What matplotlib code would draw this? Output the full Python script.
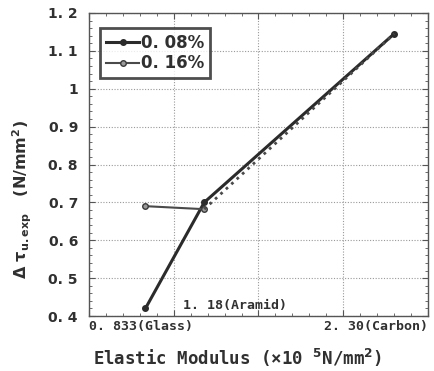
import matplotlib.pyplot as plt
from matplotlib.ticker import MultipleLocator

# fibre elastic modulus (x10^5 N/mm2) and shear stress increment
modulus = [0.833, 1.18, 2.30]
fibre_labels = ['0. 833(Glass)', '1. 18(Aramid)', '2. 30(Carbon)']
tau_008 = [0.42, 0.70, 1.145]
tau_016 = [0.69, 0.682, 1.145]
yticks = [0.4, 0.5, 0.6, 0.7, 0.8, 0.9, 1.0, 1.1, 1.2]
ytick_labels = ['0. 4', '0. 5', '0. 6', '0. 7', '0. 8', '0. 9', '1', '1. 1', '1. 2']

mono = 'DejaVu Sans Mono'
ink = '#303030'

fig = plt.figure(figsize=(4.35, 3.71), dpi=100)
ax = fig.add_axes([89/435, 1 - 316/371, 339/435, 303/371])

ax.plot(modulus, tau_008, '-o', color='#2b2b2b', lw=2.2, ms=4, label='0. 08%')
# 0.16%: first segment solid, second dotted
ax.plot(modulus[:2], tau_016[:2], '-o', color='#4a4a4a', lw=1.5, ms=4,
        mfc='#9a9a9a', mec='#3a3a3a', label='0. 16%')
ax.plot(modulus[1:], tau_016[1:], ':', color='#4a4a4a', lw=2.0)

ax.set_xlim(0.5, 2.5)
ax.set_ylim(0.4, 1.2)
ax.xaxis.set_major_locator(MultipleLocator(0.5))
ax.xaxis.set_minor_locator(MultipleLocator(0.1))
ax.set_yticks(yticks)
ax.set_yticklabels(ytick_labels, fontweight='bold', fontsize=10, color=ink)
ax.yaxis.set_minor_locator(MultipleLocator(0.02))
ax.set_xticklabels([])
ax.tick_params(which='both', direction='in', top=True, right=True, color='#555555')
ax.tick_params(axis='y', pad=8)
ax.tick_params(which='major', length=4)
ax.tick_params(which='minor', length=2.5)
ax.grid(True, which='major', linestyle=(0, (1, 1.5)), color='#999999', lw=0.8)
for s in ax.spines.values():
    s.set_color('#555555')
    s.set_linewidth(1.0)

# fibre labels
ax.text(0.5, 0.372, fibre_labels[0], ha='left', va='center',
        family=mono, fontweight='bold', fontsize=9.5, color=ink, clip_on=False)
ax.text(modulus[1] - 0.125, 0.428, fibre_labels[1], ha='left', va='center',
        family=mono, fontweight='bold', fontsize=9.5, color=ink)
ax.text(2.5, 0.372, fibre_labels[2], ha='right', va='center',
        family=mono, fontweight='bold', fontsize=9.5, color=ink, clip_on=False)

fig.text(238/435, 1 - 358/371, r'Elastic Modulus (×10 $^{\mathbf{5}}$N/mm$^{\mathbf{2}}$)',
         ha='center', va='center', family=mono, fontweight='bold', fontsize=12.5, color=ink)
fig.text(22/435, 1 - 200/371, r'Δ τ$_{\mathbf{u.exp}}$   (N/mm$^{\mathbf{2}}$)', rotation=90,
         ha='center', va='center', fontweight='bold', fontsize=11.5, color=ink)

leg = ax.legend(loc='upper left', bbox_to_anchor=(0.033, 0.95),
                prop={'weight': 'bold', 'size': 12},
                frameon=True, fancybox=False, handlelength=2.0, handletextpad=0.1,
                borderpad=0.35, labelspacing=0.15, borderaxespad=0)
leg.get_frame().set_edgecolor('#222222')
leg.get_frame().set_linewidth(2.0)
for t in leg.get_texts():
    t.set_color(ink)

fig.savefig('out.png', dpi=100)
